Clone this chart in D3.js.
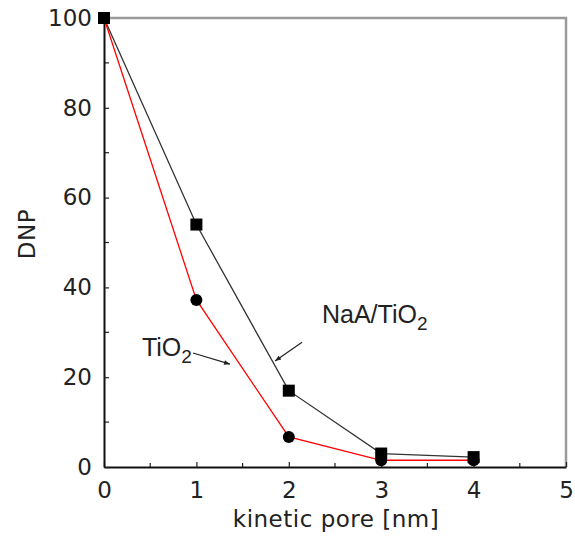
<!DOCTYPE html>
<html>
<head>
<meta charset="utf-8">
<script src="https://cdn.jsdelivr.net/npm/d3@7"></script>
<style>
  body { margin: 0; background: #fff; }
  text { font-family: "DejaVu Sans", sans-serif; }
</style>
</head>
<body>
<div id="chart-area"></div>
<script>
// data
var pore = [0, 1, 2, 3, 4];
var naaTiO2 = [100, 54, 17, 3, 2.2];
var tiO2 = [100, 37.2, 6.7, 1.5, 1.5];
var xTicks = [0, 1, 2, 3, 4, 5];
var yTicks = [0, 20, 40, 60, 80, 100];

var margin = { left: 104, right: 9, top: 18, bottom: 75 };
var width = 575 - margin.left - margin.right,
    height = 542 - margin.top - margin.bottom;

var svg = d3.select("#chart-area")
    .append("svg")
    .attr("width", 575)
    .attr("height", 542);

var g = svg.append("g")
    .attr("transform", "translate(" + margin.left + "," + margin.top + ")");

var x = d3.scaleLinear().domain([0, 5]).range([0, width]);
var y = d3.scaleLinear().domain([0, 100]).range([height, 0]);

// grey frame on top and right
g.append("path")
    .attr("d", "M0,0H" + width + "V" + height)
    .attr("fill", "none")
    .attr("stroke", "#9a9a9a")
    .attr("stroke-width", 2.5);

// minor ticks (inside)
var xMinor = d3.range(0.5, 5, 1);
g.selectAll(".xminor").data(xMinor).enter().append("line")
    .attr("x1", d => x(d)).attr("x2", d => x(d))
    .attr("y1", height).attr("y2", height - 4)
    .attr("stroke", "#222").attr("stroke-width", 1.2);
var yMinor = d3.range(10, 100, 20);
g.selectAll(".yminor").data(yMinor).enter().append("line")
    .attr("y1", d => y(d)).attr("y2", d => y(d))
    .attr("x1", 0).attr("x2", 5)
    .attr("stroke", "#222").attr("stroke-width", 1.2);

var xAxisCall = d3.axisBottom(x)
    .tickValues(xTicks)
    .tickSizeInner(-5)
    .tickSizeOuter(0)
    .tickPadding(15)
    .tickFormat(d3.format("d"));
var xAxis = g.append("g")
    .attr("class", "x-axis")
    .attr("transform", "translate(0," + height + ")")
    .call(xAxisCall);

var yAxisCall = d3.axisLeft(y)
    .tickValues(yTicks)
    .tickSizeInner(-5)
    .tickSizeOuter(0)
    .tickPadding(12)
    .tickFormat(d3.format("d"));
var yAxis = g.append("g")
    .attr("class", "y-axis")
    .call(yAxisCall);

[xAxis, yAxis].forEach(function(a) {
    a.select(".domain").attr("stroke", "#111").attr("stroke-width", 2);
    a.selectAll(".tick line").attr("stroke", "#222").attr("stroke-width", 1.2);
    a.selectAll("text").attr("font-size", "23px").attr("fill", "#222")
        .style("font-family", "'DejaVu Sans', sans-serif");
});

// axis labels
g.append("text")
    .attr("x", 232)
    .attr("y", height + 60)
    .attr("font-size", "23px")
    .attr("letter-spacing", "0.5px")
    .attr("text-anchor", "middle")
    .attr("fill", "#222")
    .text("kinetic pore [nm]");

g.append("text")
    .attr("x", -216)
    .attr("y", -69)
    .attr("font-size", "23px")
    .attr("letter-spacing", "0.5px")
    .attr("text-anchor", "middle")
    .attr("fill", "#222")
    .attr("transform", "rotate(-90)")
    .text("DNP");

// lines
var lineData = function(vals) { return pore.map(function(p, i) { return [p, vals[i]]; }); };
var line = d3.line().x(d => x(d[0])).y(d => y(d[1]));

g.append("path")
    .attr("d", line(lineData(naaTiO2)))
    .attr("fill", "none")
    .attr("stroke", "#333")
    .attr("stroke-width", 1.3);

g.append("path")
    .attr("d", line(lineData(tiO2)))
    .attr("fill", "none")
    .attr("stroke", "#f00")
    .attr("stroke-width", 1.3);

// markers
g.selectAll(".sq").data(lineData(naaTiO2)).enter().append("rect")
    .attr("x", d => x(d[0]) - 6)
    .attr("y", d => y(d[1]) - 6)
    .attr("width", 12).attr("height", 12)
    .attr("fill", "#000");

g.selectAll(".dot").data(lineData(tiO2)).enter().append("circle")
    .attr("cx", d => x(d[0]))
    .attr("cy", d => y(d[1]))
    .attr("r", 6)
    .attr("fill", "#000");

// annotations with small arrows
svg.append("defs").append("marker")
    .attr("id", "arr")
    .attr("viewBox", "0 0 10 10")
    .attr("refX", 10).attr("refY", 5)
    .attr("markerWidth", 7).attr("markerHeight", 5)
    .attr("orient", "auto")
    .append("path").attr("d", "M0,1L10,5L0,9Z").attr("fill", "#222");

function label(tx, ty, main, from, to) {
    var t = g.append("text")
        .attr("x", x(tx)).attr("y", y(ty))
        .attr("font-size", "25px").attr("fill", "#222")
        .style("font-family", "'Liberation Sans', Arial, sans-serif");
    t.append("tspan").text(main);
    t.append("tspan").attr("font-size", "19px").attr("dy", 7).text("2");
    g.append("line")
        .attr("x1", x(from[0])).attr("y1", y(from[1]))
        .attr("x2", x(to[0])).attr("y2", y(to[1]))
        .attr("stroke", "#222").attr("stroke-width", 1.2)
        .attr("marker-end", "url(#arr)");
}
label(0.411, 24.7, "TiO", [0.963, 25.4], [1.364, 22.9]);
label(2.359, 32.1, "NaA/TiO", [2.143, 27.8], [1.851, 23.6]);
</script>
</body>
</html>
